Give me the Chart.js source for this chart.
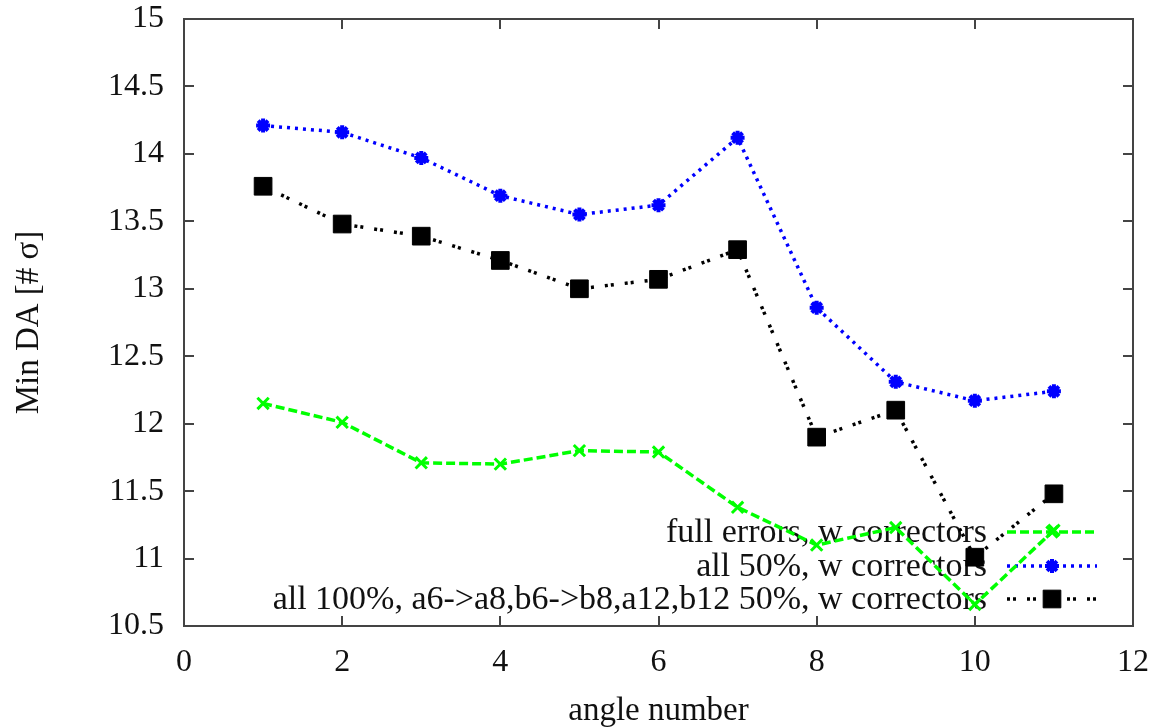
<!DOCTYPE html>
<html>
<head>
<meta charset="utf-8">
<script src="https://cdn.jsdelivr.net/npm/chart.js@4/dist/chart.umd.min.js"></script>
<style>
html,body{margin:0;padding:0;background:#fff;}
#c{display:block;}
</style>
</head>
<body>
<canvas id="c" width="1161" height="728"></canvas>
<script>
const angles = [1,2,3,4,5,6,7,8,9,10,11];
const fullErrors = [12.15,12.01,11.71,11.70,11.80,11.79,11.38,11.10,11.23,10.66,11.21];
const all50 = [14.21,14.16,13.97,13.69,13.55,13.62,14.12,12.86,12.31,12.17,12.24];
const all100 = [13.76,13.48,13.39,13.21,13.00,13.07,13.29,11.90,12.10,11.01,11.48];
const labels = ["full errors, w correctors","all 50%, w correctors","all 100%, a6->a8,b6->b8,a12,b12 50%, w correctors"];
const xTicks = [0,2,4,6,8,10,12];
const yTicks = [10.5,11,11.5,12,12.5,13,13.5,14,14.5,15];

const FONT = "'Liberation Serif','Times New Roman',serif";

function pts(ys){ return angles.map((x,i)=>({x:x,y:ys[i]})); }

const frame = {
  id:'frame',
  beforeDatasetsDraw(chart){
    const ctx = chart.ctx;
    const textRight = 987, x0 = 1007, x1 = 1097, rows = [532,566,599];
    ctx.save();
    ctx.font = "34px " + FONT;
    ctx.fillStyle = '#111';
    ctx.textAlign = 'right';
    ctx.textBaseline = 'middle';
    chart.data.datasets.forEach((ds,i)=>{
      const y = rows[i];
      ctx.fillText(ds.label, textRight, y+1);
      ctx.save();
      ctx.strokeStyle = ds.borderColor;
      ctx.lineWidth = ds.borderWidth;
      ctx.setLineDash(ds.borderDash);
      ctx.beginPath(); ctx.moveTo(x0,y); ctx.lineTo(x1,y); ctx.stroke();
      ctx.setLineDash([]);
      ctx.lineWidth = ds.pointBorderWidth;
      ctx.strokeStyle = ds.pointBorderColor;
      ctx.fillStyle = ds.pointBackgroundColor;
      Chart.helpers.drawPoint(ctx, {pointStyle: ds.pointStyle, rotation:0, radius: ds.pointRadius, borderWidth: ds.pointBorderWidth}, (x0+x1)/2, y);
      ctx.restore();
    });
    ctx.restore();
  },
  afterDraw(chart){
    const ctx = chart.ctx, a = chart.chartArea;
    const xs = chart.scales.x, ys = chart.scales.y;
    ctx.save();
    ctx.strokeStyle = '#444';
    ctx.lineWidth = 2;
    ctx.strokeRect(a.left, a.top, a.right-a.left, a.bottom-a.top);
    const L = 10;
    ctx.beginPath();
    xTicks.forEach(v=>{
      const p = Math.round(xs.getPixelForValue(v));
      ctx.moveTo(p, a.bottom); ctx.lineTo(p, a.bottom-L);
      ctx.moveTo(p, a.top); ctx.lineTo(p, a.top+L);
    });
    yTicks.forEach(v=>{
      const p = Math.round(ys.getPixelForValue(v));
      ctx.moveTo(a.left, p); ctx.lineTo(a.left+L, p);
      ctx.moveTo(a.right, p); ctx.lineTo(a.right-L, p);
    });
    ctx.stroke();
    ctx.restore();
  }
};

new Chart(document.getElementById('c'), {
  type:'line',
  data:{
    datasets:[
      {label:labels[0], data:pts(fullErrors), borderColor:'#00ff00', borderWidth:3.5, borderDash:[9,4],
       pointStyle:'crossRot', pointRadius:8, pointBorderWidth:3, pointBorderColor:'#00ff00', pointBackgroundColor:'#00ff00', order:3},
      {label:labels[1], data:pts(all50), borderColor:'#0000ff', borderWidth:3.5, borderDash:[3,5],
       pointStyle:'star', pointRadius:7, pointBorderWidth:4, pointBorderColor:'#0000ff', pointBackgroundColor:'#0000ff', order:2},
      {label:labels[2], data:pts(all100), borderColor:'#000000', borderWidth:3.5, borderDash:[3,3,3,11],
       pointStyle:'rect', pointRadius:12.5, pointBorderWidth:1, pointBorderColor:'#000', pointBackgroundColor:'#000', order:1}
    ]
  },
  options:{
    responsive:false,
    animation:false,
    devicePixelRatio:1,
    layout:{padding:{top:19,right:28,left:0,bottom:0}},
    plugins:{legend:{display:false}, tooltip:{enabled:false}},
    events:[],
    scales:{
      x:{
        type:'linear', min:0, max:12,
        afterFit(s){ s.height = 102; s.paddingLeft = 0; s.paddingRight = 0; },
        afterBuildTicks(s){ s.ticks = xTicks.map(v=>({value:v})); },
        grid:{display:false, drawTicks:false},
        border:{display:false},
        ticks:{padding:17, color:'#111', font:{family:FONT, size:32}, callback:v=>String(v)},
        title:{display:true, text:'angle number', color:'#111', font:{family:FONT, size:33}, padding:{top:0,bottom:-3}}
      },
      y:{
        type:'linear', min:10.5, max:15,
        afterFit(s){ s.width = 184; s.paddingTop = 0; s.paddingBottom = 0; },
        afterBuildTicks(s){ s.ticks = yTicks.map(v=>({value:v})); },
        grid:{display:false, drawTicks:false},
        border:{display:false},
        ticks:{padding:20, color:'#111', font:{family:FONT, size:32}, callback:v=>String(v)},
        title:{display:true, text:'Min DA [# σ]', color:'#111', font:{family:FONT, size:33}, padding:{top:10,bottom:0}}
      }
    }
  },
  plugins:[frame]
});
</script>
</body>
</html>
